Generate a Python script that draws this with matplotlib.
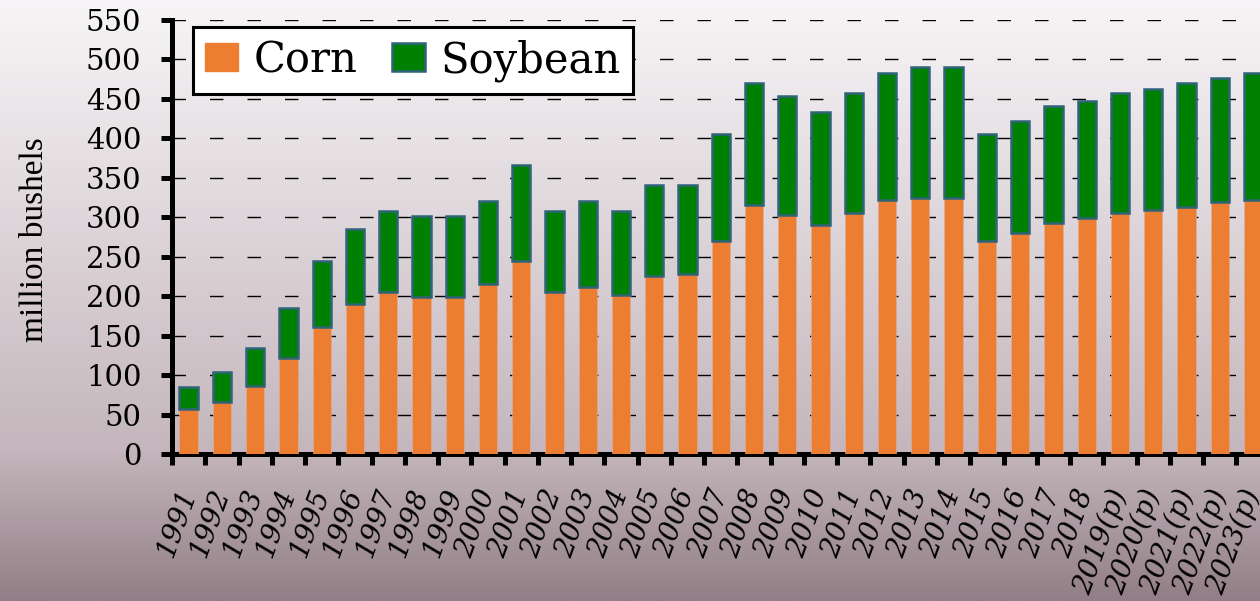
import numpy as np
import matplotlib
matplotlib.use("Agg")
import matplotlib.pyplot as plt
from matplotlib.patches import Patch

years = ["1991", "1992", "1993", "1994", "1995", "1996", "1997", "1998", "1999", "2000",
         "2001", "2002", "2003", "2004", "2005", "2006", "2007", "2008", "2009", "2010",
         "2011", "2012", "2013", "2014", "2015", "2016", "2017", "2018",
         "2019(p)", "2020(p)", "2021(p)", "2022(p)", "2023(p)"]
corn = [57, 66, 86, 122, 161, 190, 205, 199, 199, 215,
        245, 205, 212, 202, 225, 228, 270, 316, 303, 290,
        306, 322, 325, 325, 270, 280, 293, 299,
        306, 309, 313, 319, 322]
total = [85, 104, 134, 185, 244, 285, 308, 302, 302, 321,
         366, 308, 321, 308, 341, 341, 405, 470, 454, 434,
         457, 483, 490, 490, 405, 422, 441, 447,
         457, 463, 470, 476, 483]
soybean = [t - c for t, c in zip(total, corn)]

W, H = 1260, 601
fig = plt.figure(figsize=(W / 100, H / 100), dpi=100)

# background gradient
bg = fig.add_axes([0, 0, 1, 1], zorder=-10)
top = np.array([247, 245, 247]) / 255
mid = np.array([196, 182, 188]) / 255
bot = np.array([146, 126, 134]) / 255
t = np.linspace(0, 1, 300)[:, None]
grad = np.where(t < 0.75, top + (mid - top) * (t / 0.75), mid + (bot - mid) * ((t - 0.75) / 0.25))
bg.imshow(grad[:, None, :], aspect="auto", extent=[0, 1, 0, 1])
bg.axis("off")

n = len(years)
left = 172 / W
bottom = (H - 454) / H
height = (454 - 20) / H
width = n * 33.26 / W
ax = fig.add_axes([left, bottom, width, height])
ax.set_facecolor("none")

x = np.arange(n)
bw = 0.55
ax.bar(x, corn, bw, color="#ED7D31", edgecolor="#d8b0a0", linewidth=0.4, zorder=3, label="Corn")
ax.bar(x, soybean, bw, bottom=corn, color="#008000", edgecolor="#2E6378", linewidth=1.8,
       zorder=3, label="Soybean")

ax.set_xlim(-0.5, n - 0.5)
ax.set_ylim(0, 550)
ax.set_yticks(np.arange(0, 551, 50))
ax.yaxis.grid(True, color="black", linewidth=1.0, linestyle=(0, (9.7, 17.3)), zorder=0)
ax.set_axisbelow(True)

for s in ["top", "right"]:
    ax.spines[s].set_visible(False)
for s in ["left", "bottom"]:
    ax.spines[s].set_linewidth(3.6)
    ax.spines[s].set_color("black")

ax.set_xticks(np.arange(n + 1) - 0.5)
ax.set_xticklabels([])
ax.set_xticks(x, minor=True)
ax.set_xticklabels(years, minor=True, rotation=70, ha="right", va="center",
                   rotation_mode="anchor", family="DejaVu Serif", style="italic", fontsize=20)
ax.tick_params(axis="x", which="major", length=8, width=3.6, direction="out")
ax.tick_params(axis="x", which="minor", length=0, pad=26)
ax.tick_params(axis="y", length=8, width=3.6, direction="out", pad=14)
for lab in ax.get_yticklabels():
    lab.set_family("DejaVu Serif")
    lab.set_fontsize(21)

ax.set_ylabel("million bushels", family="Liberation Serif", fontsize=24)
ax.yaxis.set_label_coords(-0.111, 0.493)

handles = [Patch(facecolor="#ED7D31", edgecolor="#ED7D31", label="Corn"),
           Patch(facecolor="#008000", edgecolor="#2E6378", linewidth=1.8, label="Soybean")]
leg = ax.legend(handles=handles, loc="upper left", bbox_to_anchor=(0.019, 0.985), ncol=2,
                prop={"family": "DejaVu Serif", "size": 30}, frameon=True, fancybox=False,
                framealpha=1, edgecolor="black", handlelength=0.79, handleheight=0.65,
                handletextpad=0.36, columnspacing=0.84, borderpad=0.3, borderaxespad=0)
leg.get_frame().set_linewidth(2.2)

fig.savefig("out.png", dpi=100)
